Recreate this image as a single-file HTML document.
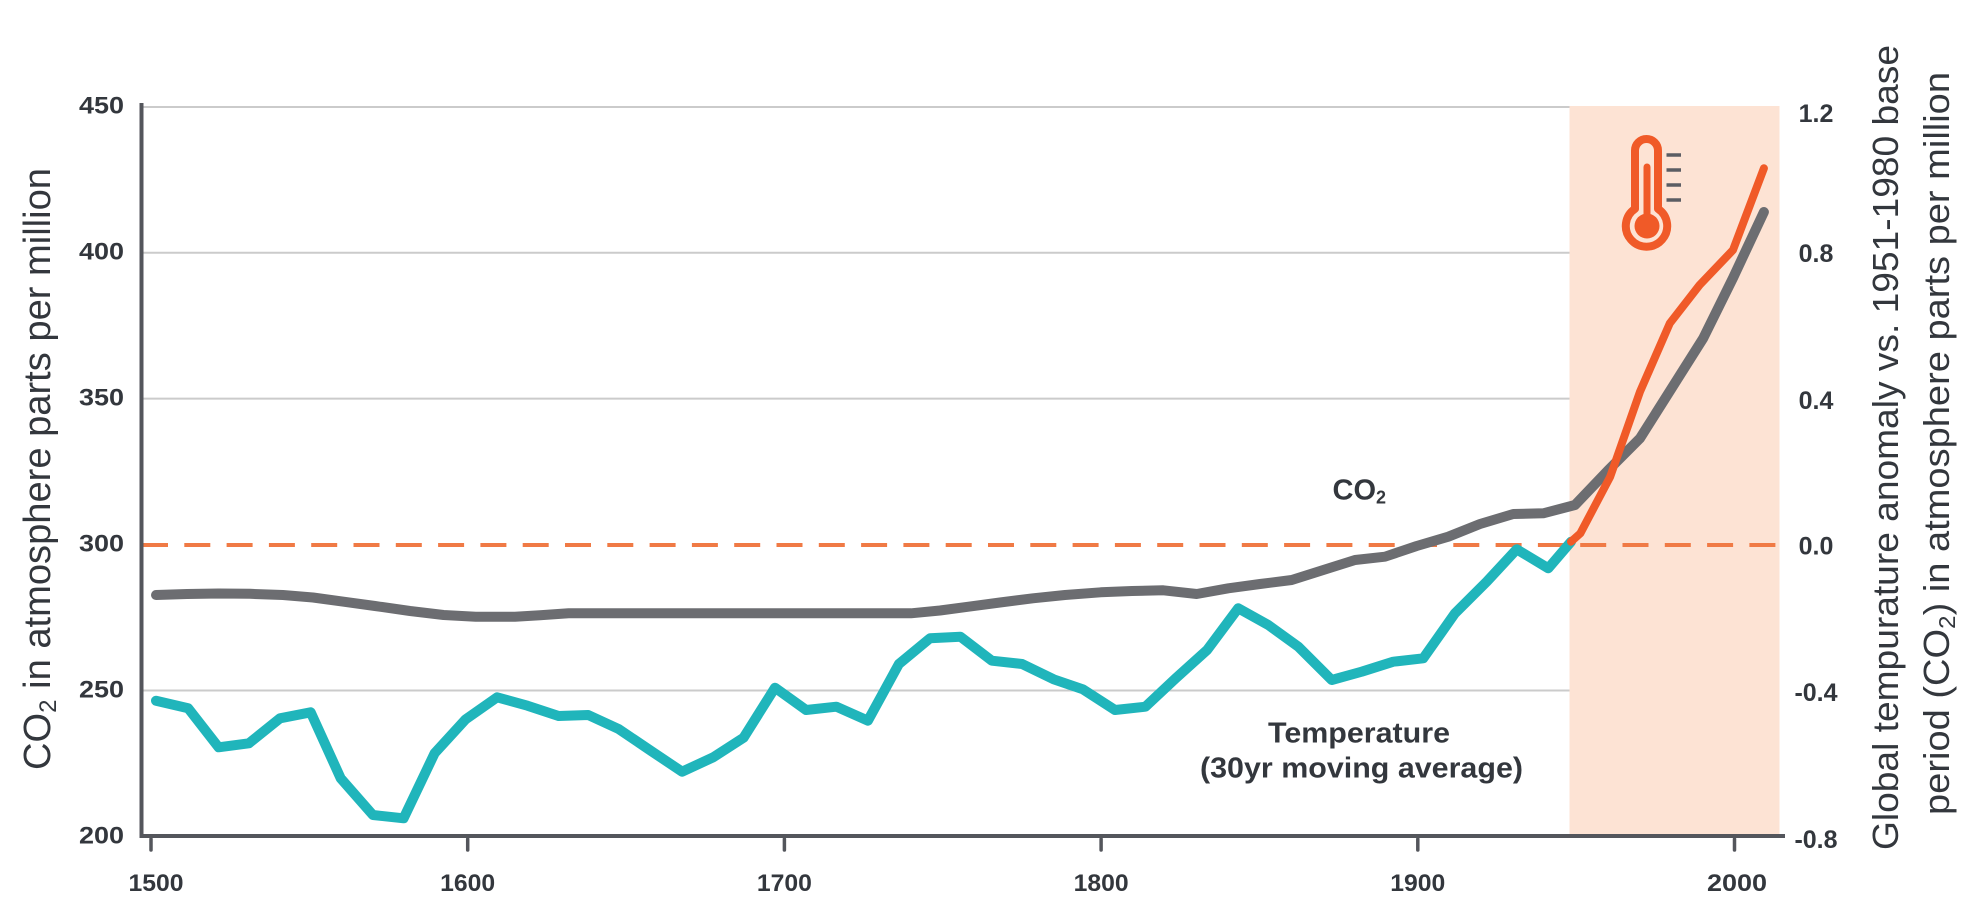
<!DOCTYPE html>
<html>
<head>
<meta charset="utf-8">
<style>
  html, body { margin: 0; padding: 0; background: #ffffff; }
  body { width: 1976px; height: 924px; overflow: hidden; }
  svg { display: block; }
  text { font-family: "Liberation Sans", Arial, sans-serif; fill: #33373d; }
</style>
</head>
<body>
<svg width="1976" height="924" viewBox="0 0 1976 924" xmlns="http://www.w3.org/2000/svg">
  <rect x="0" y="0" width="1976" height="924" fill="#ffffff"/>

  <!-- gridlines -->
  <g stroke="#cbcbcb" stroke-width="2">
    <line x1="142" y1="107" x2="1779" y2="107"/>
    <line x1="142" y1="252.7" x2="1779" y2="252.7"/>
    <line x1="142" y1="398.6" x2="1779" y2="398.6"/>
    <line x1="142" y1="690.5" x2="1779" y2="690.5"/>
  </g>

  <!-- shaded region -->
  <rect x="1569.5" y="106" width="210" height="730" fill="#fde3d4"/>

  <!-- dashed zero line -->
  <line x1="142" y1="545" x2="1779" y2="545" stroke="#f07a45" stroke-width="4" stroke-dasharray="26 16.3"/>

  <!-- axes -->
  <line x1="141.5" y1="103" x2="141.5" y2="838" stroke="#54565c" stroke-width="4"/>
  <line x1="139.5" y1="836" x2="1785" y2="836" stroke="#54565c" stroke-width="4"/>
  <g stroke="#54565c" stroke-width="3.5" stroke-linecap="round">
    <line x1="151" y1="839" x2="151" y2="850"/>
    <line x1="467.7" y1="839" x2="467.7" y2="850"/>
    <line x1="784.4" y1="839" x2="784.4" y2="850"/>
    <line x1="1101.1" y1="839" x2="1101.1" y2="850"/>
    <line x1="1417.8" y1="839" x2="1417.8" y2="850"/>
    <line x1="1734.5" y1="839" x2="1734.5" y2="850"/>
  </g>

  <!-- x tick labels -->
  <g font-size="24" font-weight="bold" text-anchor="middle">
    <text x="156" y="891" textLength="55" lengthAdjust="spacingAndGlyphs">1500</text>
    <text x="467.7" y="891" textLength="55" lengthAdjust="spacingAndGlyphs">1600</text>
    <text x="784.4" y="891" textLength="55" lengthAdjust="spacingAndGlyphs">1700</text>
    <text x="1101.1" y="891" textLength="55" lengthAdjust="spacingAndGlyphs">1800</text>
    <text x="1417.8" y="891" textLength="55" lengthAdjust="spacingAndGlyphs">1900</text>
    <text x="1737" y="891" textLength="60" lengthAdjust="spacingAndGlyphs">2000</text>
  </g>

  <!-- left tick labels -->
  <g font-size="24" font-weight="bold" text-anchor="end">
    <text x="124" y="113.5" textLength="45" lengthAdjust="spacingAndGlyphs">450</text>
    <text x="124" y="259.5" textLength="45" lengthAdjust="spacingAndGlyphs">400</text>
    <text x="124" y="405.5" textLength="45" lengthAdjust="spacingAndGlyphs">350</text>
    <text x="124" y="551.5" textLength="45" lengthAdjust="spacingAndGlyphs">300</text>
    <text x="124" y="697.5" textLength="45" lengthAdjust="spacingAndGlyphs">250</text>
    <text x="124" y="843.5" textLength="45" lengthAdjust="spacingAndGlyphs">200</text>
  </g>

  <!-- right tick labels -->
  <g font-size="25" font-weight="bold" text-anchor="middle">
    <text x="1816" y="122">1.2</text>
    <text x="1816" y="262">0.8</text>
    <text x="1816" y="409">0.4</text>
    <text x="1816" y="554.5">0.0</text>
    <text x="1816" y="701">-0.4</text>
    <text x="1816" y="848">-0.8</text>
  </g>

  <!-- left axis title -->
  <text transform="translate(50,770) rotate(-90)" font-size="38" textLength="602" lengthAdjust="spacingAndGlyphs" fill="#3a3d44">CO<tspan font-size="24" dy="6">2</tspan><tspan dy="-6"> in atmosphere parts per million</tspan></text>

  <!-- right axis title -->
  <text transform="translate(1898,850) rotate(-90)" font-size="36" textLength="805" lengthAdjust="spacingAndGlyphs" fill="#3a3d44">Global tempurature anomaly vs. 1951-1980 base</text>
  <text transform="translate(1949,815) rotate(-90)" font-size="36" textLength="743" lengthAdjust="spacingAndGlyphs" fill="#3a3d44">period (CO<tspan font-size="23" dy="6">2</tspan><tspan dy="-6">) in atmosphere parts per million</tspan></text>

  <!-- thermometer icon -->
  <g>
    <path d="M1635,208.8 L1635,150.5 A11.5,11.5 0 0 1 1658,150.5 L1658,208.8 A20.7,20.7 0 1 1 1635,208.8 Z" fill="none" stroke="#f05a28" stroke-width="8" stroke-linejoin="round"/>
    <line x1="1647" y1="167" x2="1647" y2="226" stroke="#f05a28" stroke-width="7" stroke-linecap="round"/>
    <circle cx="1647" cy="226" r="12.5" fill="#f05a28"/>
    <g stroke="#5b5d63" stroke-width="3.5">
      <line x1="1666.5" y1="155" x2="1681" y2="155"/>
      <line x1="1666.5" y1="170" x2="1681" y2="170"/>
      <line x1="1666.5" y1="185" x2="1681" y2="185"/>
      <line x1="1666.5" y1="200" x2="1681" y2="200"/>
    </g>
  </g>

  <!-- CO2 series (gray) -->
  <polyline fill="none" stroke="#6c6d71" stroke-width="10" stroke-linecap="round" stroke-linejoin="round"
    points="156,595 187,594 218.6,593.5 250,593.8 282.9,595 313,597.5 343.6,601.7 375,606 410,611 443.6,615 475.7,616.7 515,616.7 540,615.3 568.6,613.3 620,613.3 700,613.3 780,613.3 911,613.3 940,610.5 968.6,606.7 1000,602.5 1032.9,598.3 1065,595 1100.7,592.3 1132,591 1163.3,590.3 1196.7,594 1228.3,588.3 1260,584 1291.7,580 1323.3,570 1355,560 1385,556.7 1416.7,546 1448.3,536.7 1480,524 1513.3,514 1543.3,513.3 1575,505 1608.4,470 1640,438.3 1671.6,388.3 1703.2,338.3 1733,278 1763.9,212"/>

  <!-- temperature series (teal) -->
  <polyline fill="none" stroke="#20b5bb" stroke-width="10" stroke-linecap="round" stroke-linejoin="round"
    points="156,700.7 188.2,708.3 218.6,747.3 248.9,743.3 280,718.3 310.7,712.3 340.7,778.3 372.9,815 403.6,818.3 434.6,753.3 465.7,719.3 497.1,697.3 527.5,705.7 558.6,716 588.2,715 618.6,729 650.7,750.7 682.1,771.7 713.2,757.3 743.6,737.7 775,687.7 806.1,710 836.4,706.7 867.9,720.7 898.9,664 930,638.3 960.4,636.7 991.8,660.7 1022.1,664 1053.6,679.3 1082.9,689.3 1115,710 1145.4,706.7 1175.7,678.3 1207.1,650 1238.2,608.3 1268.3,625 1298.3,646.7 1331.7,680 1361.7,671.7 1393.3,661.7 1423.3,658.3 1455,613.3 1486.7,581.7 1516.7,549.3 1548.3,568.3 1571,541.7"/>

  <!-- recent temperature (orange) -->
  <polyline fill="none" stroke="#f05a28" stroke-width="8" stroke-linecap="round" stroke-linejoin="round"
    points="1571,541.7 1580.4,533.3 1610.2,476.7 1640,391.7 1669.8,323.3 1699.6,285 1733,250 1763.9,168.3"/>

  <!-- series labels -->
  <text x="1332.5" y="499.5" font-size="29" font-weight="bold" fill="#2f3338">CO<tspan font-size="18" dy="4">2</tspan></text>
  <text x="1359" y="742.7" font-size="29" font-weight="bold" text-anchor="middle" textLength="182" lengthAdjust="spacingAndGlyphs" fill="#2f3338">Temperature</text>
  <text x="1361.5" y="777.3" font-size="29" font-weight="bold" text-anchor="middle" textLength="323" lengthAdjust="spacingAndGlyphs" fill="#2f3338">(30yr moving average)</text>
</svg>
</body>
</html>
